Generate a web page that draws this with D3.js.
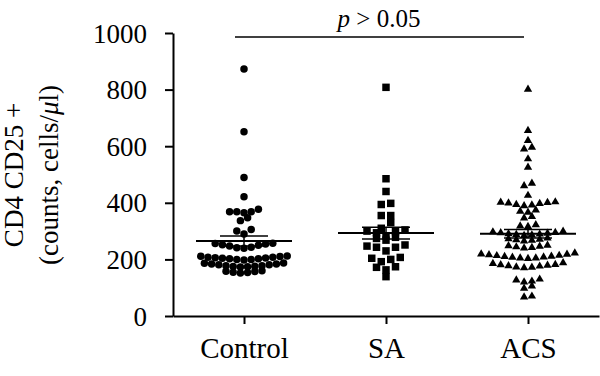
<!DOCTYPE html>
<html>
<head>
<meta charset="utf-8">
<script src="https://cdn.jsdelivr.net/npm/d3@7"></script>
<style>
    body { margin: 0; background: #fff; }
    svg { display: block; }
    svg text { font-family: "Liberation Serif", "Times New Roman", serif !important; }
</style>
</head>
<body>
<svg id="chart" width="600" height="376"></svg>
<script>

// groups and the values
const groups = ["Control", "SA", "ACS"]

const controlValues = [873, 651, 489, 421,
    377, 368, 368, 368, 365,
    347, 337,
    306, 300, 290,
    257, 256, 254, 252, 250, 247, 243, 241, 239,
    212, 210, 208, 206, 204, 202, 200, 198, 200, 202, 205, 208, 211,
    187, 184, 181, 178, 176, 174, 173, 175, 178, 181, 184, 186,
    160, 157, 154, 152, 155, 158]

const saValues = [808, 485, 440, 398, 394, 355, 355, 330,
    310, 304, 300, 298, 294,
    283, 278, 274, 268,
    251, 247, 243, 243,
    230,
    207, 204, 200, 192,
    174, 172, 163,
    139]

const acsValues = [801, 655, 620, 596, 590, 555, 525, 469, 460, 426,
    403, 402, 401, 399, 397, 394, 392, 389,
    374, 370, 366,
    351, 346,
    322, 318, 316,
    299, 297, 295, 294, 292, 290, 289, 288, 286, 284,
    275, 273, 271, 269, 267, 265,
    250, 248, 246, 244, 242, 240,
    222, 219, 216, 213, 210, 207, 205, 203, 205, 208, 211, 214, 218,
    188, 185, 182, 179, 176, 172, 170, 173, 177, 181,
    130, 127, 123, 120,
    106, 98,
    70, 67]

// mean and SEM as drawn
const means = [265, 293, 291]
const sems = [18, 21, 15]

const yTicks = [0, 200, 400, 600, 800, 1000]
const pLabel = " > 0.05"

const svg = d3.select("#chart")

let yScale = d3.scaleLinear()
    .domain([0, 1000])
    .range([316, 33])

let xScale = d3.scalePoint()
    .domain(groups)
    .range([173, 599])
    .padding(0.5)

// GraphPad style rows: values close in y share a row, lowest in the middle
function rowLayout(values, spacing, gap) {
    let sorted = values.slice().sort((a, b) => b - a)
    let rows = []
    let cur = []
    for (let v of sorted) {
        if (cur.length && yScale(v) - yScale(cur[0]) > gap) {
            rows.push(cur)
            cur = []
        }
        cur.push(v)
    }
    if (cur.length) rows.push(cur)

    let out = []
    rows.forEach(r => {
        let n = r.length
        let slots = d3.range(n).map(i => i - (n - 1) / 2)
        slots.sort((a, b) => Math.abs(a) - Math.abs(b) || a - b)
        let asc = r.slice().sort((a, b) => a - b)
        asc.forEach((v, i) => out.push({ value: v, dx: slots[i] * spacing }))
    })
    return out
}

const series = [
    { name: "Control", values: controlValues, symbol: d3.symbolCircle, size: 44, spacing: 7.2 },
    { name: "SA", values: saValues, symbol: d3.symbolSquare, size: 56, spacing: 9.5 },
    { name: "ACS", values: acsValues, symbol: d3.symbolTriangle, size: 30, spacing: 7.8 }
]

// axes
let yAxis = d3.axisLeft(yScale)
    .tickValues(yTicks)
    .tickFormat(d3.format("d"))
    .tickSize(8)
    .tickSizeOuter(0)
    .tickPadding(18)

let xAxis = d3.axisBottom(xScale)
    .tickSize(8)
    .tickSizeOuter(0)

let gy = svg.append("g")
    .attr("transform", "translate(173,0)")
    .call(yAxis)

gy.selectAll("text")
    .attr("font-size", 27)
    .attr("fill", "#000")
    .attr("dy", "0.34em")

let gx = svg.append("g")
    .attr("transform", "translate(0,316)")
    .call(xAxis)

gx.selectAll("text")
    .attr("font-size", 29)
    .attr("fill", "#000")
    .attr("y", 42)
    .attr("dy", 0)

svg.selectAll(".domain, .tick line")
    .attr("stroke", "#000")
    .attr("stroke-width", 2)

// y label, two lines
let ylab = svg.append("text")
    .attr("transform", "translate(0,175) rotate(-90)")
    .attr("text-anchor", "middle")
    .attr("font-size", 27)
    .attr("fill", "#000")

ylab.append("tspan")
    .attr("x", 0)
    .attr("y", 23)
    .text("CD4 CD25 +")

let line2 = ylab.append("tspan")
    .attr("x", 0)
    .attr("y", 58)
line2.append("tspan").text("(counts, cells/")
line2.append("tspan").attr("font-style", "italic").text("μ")
line2.append("tspan").text("l)")

// points
series.forEach(s => {
    let pts = rowLayout(s.values, s.spacing, 6)
    svg.append("g")
        .selectAll("path")
        .data(pts)
        .enter()
        .append("path")
            .attr("d", d3.symbol().type(s.symbol).size(s.size))
            .attr("transform", d => "translate(" + (xScale(s.name) + d.dx) + "," + yScale(d.value) + ")")
            .attr("fill", "#000")
})

// mean and SEM bars
let bars = svg.append("g")
    .attr("stroke", "#000")

groups.forEach((g, i) => {
    let cx = xScale(g)
    bars.append("line")
        .attr("x1", cx - 48).attr("x2", cx + 48)
        .attr("y1", yScale(means[i])).attr("y2", yScale(means[i]))
        .attr("stroke-width", 2)
    bars.append("line")
        .attr("x1", cx).attr("x2", cx)
        .attr("y1", yScale(means[i] + sems[i])).attr("y2", yScale(means[i] - sems[i]))
        .attr("stroke-width", 1.5)
    for (let v of [means[i] + sems[i], means[i] - sems[i]]) {
        bars.append("line")
            .attr("x1", cx - 24).attr("x2", cx + 24)
            .attr("y1", yScale(v)).attr("y2", yScale(v))
            .attr("stroke-width", 1.5)
    }
})

// significance line
svg.append("line")
    .attr("x1", 235).attr("x2", 524)
    .attr("y1", 37).attr("y2", 37)
    .attr("stroke", "#000")
    .attr("stroke-width", 1.5)

let ptext = svg.append("text")
    .attr("x", 379)
    .attr("y", 27)
    .attr("text-anchor", "middle")
    .attr("font-size", 25)
    .attr("fill", "#000")
ptext.append("tspan").attr("font-style", "italic").text("p")
ptext.append("tspan").text(pLabel)

</script>
</body>
</html>
